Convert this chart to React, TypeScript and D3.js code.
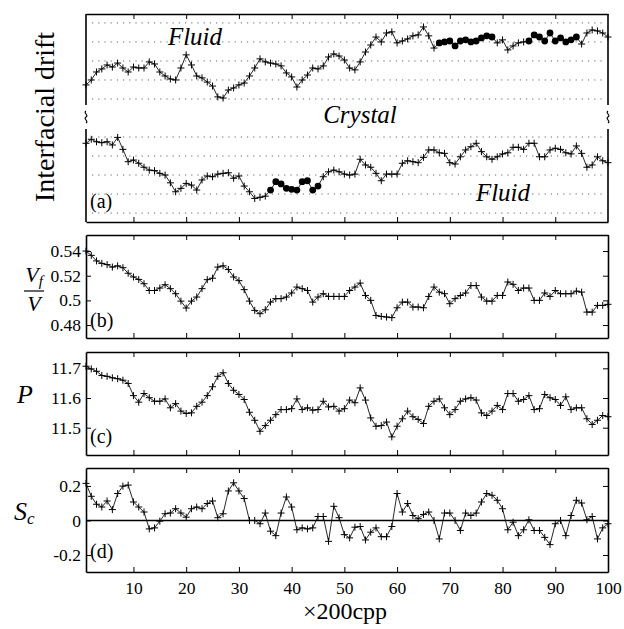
import React, { useRef, useEffect } from 'react';
import * as d3 from 'd3';

const steps = d3.range(1, 101);
const xTicks = [10, 20, 30, 40, 50, 60, 70, 80, 90, 100];

// (a) interfacial drift, in grid spacings (no physical scale on the plot)
const upperDrift = [
    6.74, 7.0, 7.42, 7.58, 7.79, 7.68, 7.89, 7.63, 7.42, 7.68,
    7.63, 7.63, 7.95, 7.84, 7.42, 7.21, 7.05, 7.0, 7.63, 8.32,
    7.79, 7.21, 7.11, 6.89, 6.68, 6.11, 6.05, 6.47, 6.58, 6.74,
    6.84, 7.21, 7.63, 8.11, 7.95, 7.89, 7.84, 7.74, 7.37, 7.16,
    6.63, 7.0, 7.26, 7.63, 7.58, 7.74, 8.21, 8.37, 8.26, 8.05,
    7.63, 7.53, 7.95, 8.47, 8.84, 9.26, 9.0, 9.47, 9.53, 8.95,
    9.05, 9.16, 9.32, 9.37, 9.79, 9.32, 8.68, 8.95, 9.0, 9.05,
    8.79, 9.05, 9.11, 9.0, 9.05, 9.21, 9.32, 9.26, 8.95, 9.11,
    8.58, 8.79, 8.95, 9.0, 9.05, 9.37, 9.26, 9.05, 9.47, 9.05,
    9.21, 9.0, 9.11, 9.26, 8.89, 9.47, 9.63, 9.58, 9.47, 9.26
];
const lowerDrift = [
    3.67, 3.88, 3.75, 3.70, 3.75, 3.58, 3.98, 3.35, 2.70, 2.79,
    2.62, 2.41, 2.26, 2.23, 2.09, 2.0, 1.59, 1.12, 1.30, 1.56,
    1.47, 1.21, 1.74, 1.95, 1.91, 2.05, 2.09, 2.12, 1.83, 1.95,
    1.42, 1.12, 0.77, 0.83, 0.89, 1.21, 1.65, 1.53, 1.30, 1.25,
    1.21, 1.65, 1.70, 1.21, 1.42, 1.91, 2.17, 2.26, 2.17, 2.05,
    2.0, 2.05, 2.83, 2.53, 2.41, 2.09, 1.70, 2.05, 2.05, 2.05,
    2.62, 2.75, 2.70, 2.65, 2.93, 3.32, 3.32, 3.17, 3.14, 2.65,
    2.58, 2.96, 3.32, 3.49, 3.67, 3.23, 2.96, 2.83, 2.96, 3.11,
    3.17, 3.46, 3.46, 3.35, 3.67, 3.67, 2.96, 2.96, 3.32, 3.41,
    3.35, 3.17, 3.11, 3.53, 3.14, 2.41, 2.53, 2.96, 2.75, 2.65
];
// steps drawn with filled dots
const upperDotRuns = [[68, 78], [85, 94]];
const lowerDotRuns = [[36, 45]];
const driftGrid = [0, 1, 2, 3, 4, 6, 7, 8, 9, 10];

// (b) Vf / V
const volumeFraction = [
    0.540, 0.5365, 0.532, 0.530, 0.529, 0.527, 0.528, 0.5265, 0.522, 0.519,
    0.517, 0.5135, 0.508, 0.508, 0.510, 0.5127, 0.5095, 0.5054, 0.4994, 0.4938,
    0.4994, 0.5027, 0.5095, 0.5168, 0.518, 0.527, 0.528, 0.525, 0.519, 0.516,
    0.5087, 0.4994, 0.4919, 0.4892, 0.4924, 0.4986, 0.5014, 0.5014, 0.5027, 0.506,
    0.5108, 0.5095, 0.508, 0.4986, 0.5027, 0.5054, 0.5032, 0.5032, 0.5032, 0.5032,
    0.508, 0.5108, 0.514, 0.504, 0.5, 0.4878, 0.487, 0.4865, 0.486, 0.494,
    0.4986, 0.4986, 0.4946, 0.4946, 0.494, 0.5032, 0.5108, 0.5067, 0.5054, 0.4973,
    0.5014, 0.504, 0.506, 0.512, 0.512, 0.5027, 0.4994, 0.4994, 0.504, 0.504,
    0.5149, 0.513, 0.508, 0.510, 0.510, 0.5, 0.5, 0.506, 0.5032, 0.508,
    0.5054, 0.5054, 0.5054, 0.5075, 0.5067, 0.4905, 0.4905, 0.4959, 0.4959, 0.4968
];
const vfTicks = [0.48, 0.5, 0.52, 0.54];

// (c) P
const pressure = [
    11.707, 11.698, 11.690, 11.676, 11.673, 11.668, 11.665, 11.66, 11.649, 11.608,
    11.586, 11.615, 11.601, 11.589, 11.589, 11.597, 11.567, 11.581, 11.556, 11.548,
    11.55, 11.572, 11.586, 11.608, 11.638, 11.673, 11.685, 11.649, 11.626, 11.612,
    11.595, 11.552, 11.525, 11.488, 11.507, 11.525, 11.544, 11.561, 11.561, 11.564,
    11.597, 11.561, 11.567, 11.559, 11.561, 11.589, 11.570, 11.572, 11.556, 11.564,
    11.593, 11.584, 11.634, 11.593, 11.533, 11.505, 11.507, 11.519, 11.469, 11.505,
    11.530, 11.556, 11.537, 11.528, 11.514, 11.572, 11.589, 11.597, 11.567, 11.544,
    11.561, 11.589, 11.597, 11.601, 11.593, 11.55, 11.541, 11.556, 11.575, 11.561,
    11.615, 11.615, 11.589, 11.595, 11.608, 11.561, 11.564, 11.612, 11.601, 11.595,
    11.575, 11.604, 11.561, 11.567, 11.567, 11.530, 11.511, 11.525, 11.541, 11.537
];
const pTicks = [11.5, 11.6, 11.7];

// (d) Sc
const scValues = [
    0.215, 0.140, 0.094, 0.078, 0.113, 0.063, 0.156, 0.199, 0.205, 0.107,
    0.078, 0.049, -0.049, -0.043, -0.004, 0.039, 0.043, 0.068, 0.043, 0.019,
    0.068, 0.078, 0.068, 0.098, 0.113, 0.016, 0.039, 0.171, 0.218, 0.171,
    0.127, 0.0, 0.0, -0.019, 0.043, -0.062, -0.088, 0.043, 0.136, 0.078,
    -0.054, -0.043, -0.049, -0.043, 0.023, 0.023, -0.121, 0.082, 0.016, -0.082,
    -0.101, -0.039, -0.035, -0.113, -0.068, -0.043, -0.094, -0.094, -0.035, 0.156,
    0.049, 0.098, 0.029, 0.010, 0.035, 0.049, 0.0, -0.107, 0.043, 0.043,
    0.0, -0.058, 0.043, 0.029, 0.043, 0.107, 0.156, 0.146, 0.117, 0.068,
    -0.054, -0.01, -0.088, -0.054, 0.004, -0.058, -0.058, -0.098, -0.140, -0.019,
    0.0, -0.088, 0.029, 0.117, 0.101, 0.004, 0.023, -0.107, -0.043, -0.019
];
const scTicks = [-0.2, 0, 0.2];

const serif = '"Liberation Serif"';

const DriftPanels = ({ width, height }) => {
    const svgRef = useRef(null);

    useEffect(() => {
        const svg = d3.select(svgRef.current);
        svg.selectAll("*").remove();

        const left = 86, right = 608;
        const x = d3.scaleLinear().domain([1, 100]).range([left, right]);

        const styleAxis = (g) => {
            g.attr("font-family", null).attr("font-size", null);
            g.selectAll("line").attr("stroke", "#000").attr("stroke-width", 1);
            g.select(".domain").attr("stroke", "#000").attr("stroke-width", 1.6);
            g.selectAll("text").attr("fill", "#000")
                .style("font-family", serif).style("font-size", "17.5px");
        };

        const plotSeries = (values, y, runs = []) => {
            const g = svg.append("g");
            const line = d3.line().x((d, i) => x(steps[i])).y(d => y(d));
            g.append("path")
                .datum(values)
                .attr("d", line)
                .attr("fill", "none")
                .attr("stroke", "#111")
                .attr("stroke-width", 0.9);
            const dotted = s => runs.some(([a, b]) => s >= a && s <= b);
            values.forEach((v, i) => {
                const cx = x(steps[i]), cy = y(v);
                if (dotted(steps[i])) {
                    g.append("circle").attr("cx", cx).attr("cy", cy).attr("r", 3.4).attr("fill", "#000");
                } else {
                    g.append("path")
                        .attr("d", `M${cx - 3.5},${cy}h7M${cx},${cy - 3.5}v7`)
                        .attr("stroke", "#000")
                        .attr("stroke-width", 1);
                }
            });
        };

        const xAxisPair = (top, bottom, labels) => {
            svg.append("g")
                .attr("transform", `translate(0,${top})`)
                .call(d3.axisTop(x).tickValues(xTicks).tickSize(-5).tickSizeOuter(0).tickFormat(() => ""))
                .call(styleAxis);
            svg.append("g")
                .attr("transform", `translate(0,${bottom})`)
                .call(d3.axisBottom(x).tickValues(xTicks).tickSize(-5).tickSizeOuter(0).tickPadding(10)
                    .tickFormat(labels ? d3.format("d") : () => ""))
                .call(styleAxis);
        };

        const boxPanel = (top, bottom, domain, ticks, fmt, withLabels) => {
            const y = d3.scaleLinear().domain(domain).range([bottom, top]);
            xAxisPair(top, bottom, withLabels);
            svg.append("g")
                .attr("transform", `translate(${left},0)`)
                .call(d3.axisLeft(y).tickValues(ticks).tickSize(-5).tickSizeOuter(0).tickPadding(5).tickFormat(fmt))
                .call(styleAxis);
            svg.append("g")
                .attr("transform", `translate(${right},0)`)
                .call(d3.axisRight(y).tickValues(ticks).tickSize(-5).tickSizeOuter(0).tickFormat(() => ""))
                .call(styleAxis);
            return y;
        };

        const addText = (t, px, py, size, italicStyle, anchor = "middle") => svg.append("text")
            .attr("x", px).attr("y", py)
            .style("font-family", serif)
            .style("font-style", italicStyle ? "italic" : "normal")
            .style("font-size", `${size}px`)
            .attr("text-anchor", anchor)
            .text(t);

        // ---- (a) interfacial drift ----
        const aTop = 14, aBottom = 222, gapTop = 105, gapBottom = 129;
        const yDrift = d3.scaleLinear().domain([-0.47, 10.47]).range([aBottom, aTop]);

        svg.append("g").selectAll("line")
            .data(driftGrid)
            .enter()
            .append("line")
            .attr("x1", left + 6).attr("x2", right - 4)
            .attr("y1", d => yDrift(d)).attr("y2", d => yDrift(d))
            .attr("stroke", "#666")
            .attr("stroke-width", 1)
            .attr("stroke-dasharray", "1.2,5");

        svg.append("g")
            .attr("transform", `translate(0,${aTop})`)
            .call(d3.axisTop(x).tickValues(xTicks.slice(0, 9)).tickSize(-5).tickSizeOuter(0).tickFormat(() => ""))
            .call(styleAxis);
        svg.append("g")
            .attr("transform", `translate(0,${aBottom})`)
            .call(d3.axisBottom(x).tickValues(xTicks.slice(0, 9)).tickSize(-5).tickSizeOuter(0).tickFormat(() => ""))
            .call(styleAxis);
        [left, right].forEach(px => {
            svg.append("line").attr("x1", px).attr("x2", px).attr("y1", aTop).attr("y2", gapTop)
                .attr("stroke", "#000").attr("stroke-width", 1.6);
            svg.append("line").attr("x1", px).attr("x2", px).attr("y1", gapBottom).attr("y2", aBottom)
                .attr("stroke", "#000").attr("stroke-width", 1.6);
            svg.append("path")
                .attr("d", `M${px},${gapTop + 6}c-3,2 3,4 0,6c-3,2 3,4 0,6`)
                .attr("fill", "none").attr("stroke", "#000").attr("stroke-width", 1.2);
        });

        plotSeries(upperDrift, yDrift, upperDotRuns);
        plotSeries(lowerDrift, yDrift, lowerDotRuns);

        addText("Fluid", 195, 45, 25, true);
        addText("Crystal", 360, 123, 25, true);
        addText("Fluid", 503, 201, 25, true);

        addText("Interfacial drift", 0, 0, 28, false)
            .attr("x", null).attr("y", null)
            .attr("transform", "translate(54,117) rotate(-90)");

        // ---- (b) (c) (d) ----
        const yVf = boxPanel(235, 338, [0.4695, 0.553], vfTicks, d => d3.format("")(d), false);
        plotSeries(volumeFraction, yVf);

        const yP = boxPanel(352, 455, [11.408, 11.755], pTicks, d3.format(".1f"), false);
        plotSeries(pressure, yP);

        const ySc = boxPanel(468, 572, [-0.2986, 0.304], scTicks,
            d => d === 0 ? "0" : d3.format(".1f")(d).replace("−", "-"), true);
        svg.append("line")
            .attr("x1", left).attr("x2", right)
            .attr("y1", ySc(0)).attr("y2", ySc(0))
            .attr("stroke", "#000").attr("stroke-width", 1.5);
        plotSeries(scValues, ySc);

        // panel tags
        [["(a)", 208], ["(b)", 327], ["(c)", 443], ["(d)", 558]].forEach(([t, py]) => {
            addText(t, 90, py, 20, false, "start");
        });

        // y labels
        const vf = addText("", 34, 282, 22, true);
        vf.append("tspan").text("V");
        vf.append("tspan").style("font-size", "15px").attr("dy", 4).text("f");
        svg.append("line").attr("x1", 24).attr("x2", 44).attr("y1", 291).attr("y2", 291)
            .attr("stroke", "#000").attr("stroke-width", 1.2);
        addText("V", 34, 311, 22, true);

        addText("P", 25, 403, 26, true);
        const sc = addText("", 14, 520, 26, true, "start");
        sc.append("tspan").text("S");
        sc.append("tspan").style("font-size", "17px").attr("dy", 4).text("c");

        addText("×200cpp", 345, 619, 24, false);
    }, [width, height]);

    return (
        <svg ref={svgRef} width={width} height={height}
            style={{ position: "absolute", left: 0, top: 0, background: "#fff" }}></svg>
    );
};

export default function App() {
    return <DriftPanels width={624} height={629} />;
}
